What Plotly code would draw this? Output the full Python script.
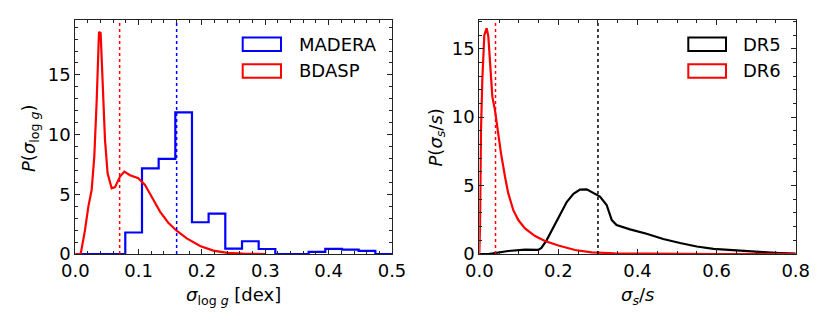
import plotly.graph_objects as go

# ---------------- data ----------------
# MADERA histogram (19 bins of width 0.5/19 from 0 to 0.5)
madera_edges = [0.0, 0.0263, 0.0526, 0.0789, 0.1053, 0.1316, 0.1579, 0.1842, 0.2105,
                0.2368, 0.2632, 0.2895, 0.3158, 0.3421, 0.3684, 0.3947, 0.4211, 0.4474,
                0.4737, 0.5]
madera_density = [0.0, 0.0, 0.0, 1.8, 7.18, 7.97, 11.86, 2.66, 3.39, 0.45, 1.07, 0.42,
                  0.0, 0.0, 0.18, 0.43, 0.36, 0.26, 0.0]

# BDASP distribution
bdasp_x = [0.0, 0.0085, 0.0153, 0.0206, 0.0258, 0.030, 0.0338, 0.0360, 0.0374, 0.040,
           0.0432, 0.0469, 0.051, 0.0574, 0.0627, 0.0706, 0.0774, 0.0864, 0.0995, 0.110,
           0.1206, 0.1337, 0.1468, 0.160, 0.176, 0.197, 0.218, 0.240, 0.265, 0.30]
bdasp_y = [0.0, 0.0, 2.0, 3.97, 5.36, 8.15, 12.9, 16.5, 18.6, 18.5,
           14.3, 9.55, 6.76, 5.5, 5.6, 6.48, 6.9, 6.6, 6.34, 5.78,
           4.8, 3.55, 2.62, 1.95, 1.31, 0.67, 0.28, 0.1, 0.03, 0.0]

# DR5 distribution
dr5_x = [0.0, 0.023, 0.0733, 0.1155, 0.149, 0.157, 0.170, 0.187, 0.204, 0.221, 0.238,
         0.2546, 0.2716, 0.288, 0.305, 0.322, 0.335, 0.347, 0.381, 0.423, 0.465, 0.5075,
         0.55, 0.592, 0.634, 0.676, 0.718, 0.76, 0.8]
dr5_y = [0.0, 0.0, 0.22, 0.32, 0.30, 0.45, 1.0, 1.95, 2.8, 3.8, 4.4,
         4.7, 4.72, 4.48, 4.19, 3.58, 2.48, 2.12, 1.8, 1.48, 1.1, 0.8,
         0.55, 0.38, 0.28, 0.2, 0.13, 0.07, 0.03]

# DR6 distribution
dr6_x = [0.0, 0.0018, 0.0043, 0.0076, 0.0127, 0.0187, 0.0228, 0.027, 0.033, 0.0397,
         0.0465, 0.0549, 0.065, 0.0733, 0.086, 0.0986, 0.1155, 0.141, 0.166, 0.20,
         0.242, 0.284, 0.343, 0.45, 0.6, 0.8]
dr6_y = [0.0, 2.0, 9.05, 12.7, 16.0, 16.5, 15.9, 14.0, 11.5, 10.5,
         9.05, 7.35, 5.65, 4.43, 3.2, 2.48, 1.87, 1.31, 0.95, 0.62,
         0.29, 0.12, 0.05, 0.01, 0.0, 0.0]

# medians (dotted lines)
madera_median = 0.16
bdasp_median = 0.07
dr5_median = 0.30
dr6_median = 0.041

# the page body has an 8px margin, so the figure is drawn from (8, 8)
OFF = 8
W, H = 830 - OFF, 332 - OFF
FONT = "DejaVu Sans"


def px(x):
    return (x - OFF) / W


def py(y):
    return 1 - (y - OFF) / H


fig = go.Figure()

# left panel
fig.add_trace(go.Scatter(x=madera_edges, y=madera_density + [0.0], mode="lines",
                         line=dict(color="#0000ff", width=2.2, shape="hv"),
                         xaxis="x", yaxis="y", showlegend=False))
fig.add_trace(go.Scatter(x=bdasp_x, y=bdasp_y, mode="lines",
                         line=dict(color="#ff0000", width=2.2),
                         xaxis="x", yaxis="y", showlegend=False))
# right panel
fig.add_trace(go.Scatter(x=dr5_x, y=dr5_y, mode="lines",
                         line=dict(color="#000000", width=2.2),
                         xaxis="x2", yaxis="y2", showlegend=False))
fig.add_trace(go.Scatter(x=dr6_x, y=dr6_y, mode="lines",
                         line=dict(color="#ff0000", width=2.2),
                         xaxis="x2", yaxis="y2", showlegend=False))

shapes = []
for xv, col, xr, yr in [(bdasp_median, "#ff0000", "x", "y domain"),
                        (madera_median, "#0000ff", "x", "y domain"),
                        (dr6_median, "#ff0000", "x2", "y2 domain"),
                        (dr5_median, "#000000", "x2", "y2 domain")]:
    shapes.append(dict(type="line", xref=xr, yref=yr, x0=xv, x1=xv, y0=0, y1=1,
                       line=dict(color=col, width=1.5, dash="dot")))

# legends (drawn manually)
annotations = []
legend_items = [
    (242.7, 281, 37.5, 51, "#0000ff", 296.5, "MADERA"),
    (242.7, 281, 64.3, 77.7, "#ff0000", 296.5, "BDASP"),
    (688.3, 726, 37.5, 51, "#000000", 741, "DR5"),
    (688.3, 726, 64.3, 77.7, "#ff0000", 741, "DR6"),
]
for x0, x1, y0, y1, col, tx, label in legend_items:
    shapes.append(dict(type="rect", xref="paper", yref="paper",
                       x0=px(x0), x1=px(x1), y0=py(y1), y1=py(y0),
                       line=dict(color=col, width=2), fillcolor="rgba(0,0,0,0)"))
    annotations.append(dict(xref="paper", yref="paper", x=px(tx), y=py((y0 + y1) / 2),
                            text=label, showarrow=False, xanchor="left", yanchor="middle",
                            font=dict(size=18, color="black", family=FONT)))

# axis titles
annotations += [
    dict(xref="paper", yref="paper", x=px(30), y=py(138), textangle=-90,
         text="<i>P</i>(<i>σ</i><sub>log <i>g</i></sub>)", showarrow=False,
         xanchor="center", yanchor="middle", font=dict(size=18, color="black", family=FONT)),
    dict(xref="paper", yref="paper", x=px(233.5), y=py(296),
         text="<i>σ</i><sub>log <i>g</i></sub> [dex]", showarrow=False,
         xanchor="center", yanchor="middle", font=dict(size=18, color="black", family=FONT)),
    dict(xref="paper", yref="paper", x=px(436.5), y=py(137), textangle=-90,
         text="<i>P</i>(<i>σ<sub>s</sub></i>/<i>s</i>)", showarrow=False,
         xanchor="center", yanchor="middle", font=dict(size=18, color="black", family=FONT)),
    dict(xref="paper", yref="paper", x=px(637), y=py(296),
         text="<i>σ<sub>s</sub></i>/<i>s</i>", showarrow=False,
         xanchor="center", yanchor="middle", font=dict(size=18, color="black", family=FONT)),
]

axis_common = dict(showline=True, linecolor="#222222", linewidth=1.2, mirror="ticks",
                   ticks="inside", ticklen=5, tickwidth=1, tickcolor="#222222",
                   showgrid=False, zeroline=False, automargin=False,
                   tickfont=dict(size=18, color="black", family=FONT))

fig.update_layout(
    width=W, height=H,
    margin=dict(l=0, r=0, t=0, b=0, autoexpand=False),
    paper_bgcolor="white", plot_bgcolor="white",
    font=dict(family=FONT, color="black"),
    xaxis=dict(domain=[px(75.3), px(392)], range=[0, 0.5], anchor="y",
               tickvals=[0, 0.1, 0.2, 0.3, 0.4, 0.5], ticktext=["0.0", "0.1", "0.2", "0.3", "0.4", "0.5"],
               minor=dict(ticks="inside", ticklen=2.5, dtick=0.02, tick0=0, tickcolor="#222222"),
               **axis_common),
    yaxis=dict(domain=[py(254), py(20)], range=[0, 19.6], anchor="x",
               tickvals=[0, 5, 10, 15],
               minor=dict(ticks="inside", ticklen=2.5, dtick=1, tick0=0, tickcolor="#222222"),
               **axis_common),
    xaxis2=dict(domain=[px(479.3), px(795.7)], range=[0, 0.8], anchor="y2",
                tickvals=[0, 0.2, 0.4, 0.6, 0.8], ticktext=["0.0", "0.2", "0.4", "0.6", "0.8"],
                minor=dict(ticks="inside", ticklen=2.5, dtick=0.05, tick0=0, tickcolor="#222222"),
                **axis_common),
    yaxis2=dict(domain=[py(254), py(20)], range=[0, 17.1], anchor="x2",
                tickvals=[0, 5, 10, 15],
                minor=dict(ticks="inside", ticklen=2.5, dtick=1, tick0=0, tickcolor="#222222"),
                **axis_common),
    shapes=shapes,
    annotations=annotations,
)

fig.write_html("out.html")
